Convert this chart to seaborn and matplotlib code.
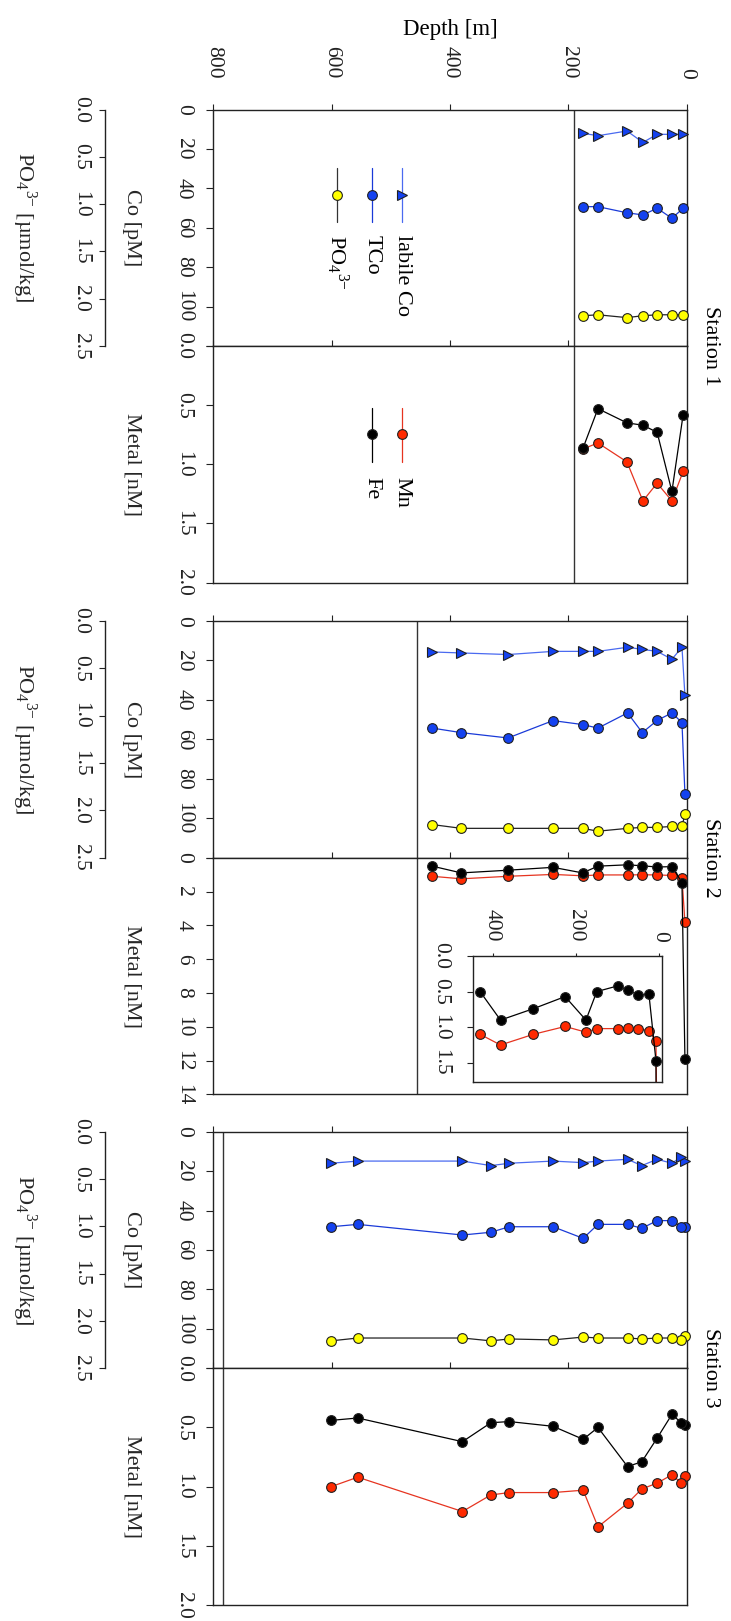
import numpy as np
import pandas as pd
import matplotlib
matplotlib.use("Agg")
import matplotlib.pyplot as plt
import seaborn as sns

sns.set_style("ticks")
plt.rcParams["font.family"] = ["Liberation Serif", "DejaVu Serif"]
plt.rcParams["mathtext.fontset"] = "custom"
plt.rcParams["mathtext.rm"] = "Liberation Serif"
plt.rcParams["mathtext.it"] = "Liberation Serif:italic"
plt.rcParams["mathtext.bf"] = "Liberation Serif:bold"
plt.rcParams["axes.edgecolor"] = "#222222"
plt.rcParams["xtick.color"] = "#222222"
plt.rcParams["ytick.color"] = "#222222"
plt.rcParams["text.color"] = "black"

# ---------------- data ----------------
stations = ["Station 1", "Station 2", "Station 3"]
depth_ticks = [0, 200, 400, 600, 800]
co_ticks = [0, 20, 40, 60, 80, 100, 120]
co_ticklabels = ["0", "20", "40", "60", "80", "100", ""]
po4_ticks = [0.0, 0.5, 1.0, 1.5, 2.0, 2.5]
metal_ticks_small = [0.0, 0.5, 1.0, 1.5, 2.0]
metal_ticks_large = [0, 2, 4, 6, 8, 10, 12, 14]
inset_depth_ticks = [0, 200, 400]
inset_metal_ticks = [0.0, 0.5, 1.0, 1.5]

# bottom depth of each station [m]
bottom_depth = [190, 456, 784]

st1_depth = [6, 25, 50, 74, 101, 150, 175]
st1_labile_co = [12.6, 12.6, 12.6, 16.7, 10.9, 13.3, 12.1]
st1_tco = [50.1, 55.2, 50.1, 53.5, 52.4, 49.3, 49.3]
st1_po4 = [2.17, 2.17, 2.17, 2.18, 2.20, 2.17, 2.18]
st1_fe = [0.58, 1.23, 0.73, 0.67, 0.65, 0.53, 0.86]
st1_mn = [1.06, 1.31, 1.16, 1.31, 0.98, 0.82, 0.87]

st2_depth = [3, 8, 25, 50, 75, 100, 150, 176, 226, 302, 381, 430]
st2_labile_co = [37.7, 13.3, 19.4, 15.4, 14.4, 13.3, 15.4, 15.4, 15.4, 17.0, 16.2, 15.7]
st2_tco = [87.5, 51.5, 46.6, 50.4, 56.6, 46.6, 54.3, 52.5, 50.5, 59.3, 56.6, 54.3]
st2_po4 = [2.04, 2.17, 2.17, 2.18, 2.18, 2.19, 2.22, 2.19, 2.19, 2.19, 2.19, 2.15]
st2_fe = [11.9, 1.47, 0.53, 0.55, 0.48, 0.42, 0.50, 0.90, 0.57, 0.74, 0.90, 0.50]
st2_mn = [3.81, 1.20, 1.05, 1.02, 1.01, 1.02, 1.02, 1.07, 0.99, 1.10, 1.25, 1.10]

st3_depth = [3, 9, 25, 50, 76, 100, 150, 175, 226, 300, 331, 379, 556, 601]
st3_labile_co = [14.9, 12.7, 16.0, 14.0, 17.2, 14.0, 14.9, 15.7, 14.9, 16.0, 17.2, 14.9, 14.9, 16.0]
st3_tco = [48.2, 48.2, 45.1, 45.1, 49.0, 47.0, 47.0, 54.1, 48.2, 48.2, 51.0, 52.4, 47.0, 48.2]
st3_po4 = [2.16, 2.20, 2.18, 2.18, 2.19, 2.18, 2.18, 2.17, 2.20, 2.19, 2.21, 2.18, 2.18, 2.21]
st3_fe = [0.48, 0.46, 0.39, 0.59, 0.79, 0.83, 0.50, 0.60, 0.49, 0.45, 0.46, 0.62, 0.42, 0.44]
st3_mn = [0.91, 0.97, 0.90, 0.97, 1.02, 1.14, 1.34, 1.03, 1.05, 1.05, 1.07, 1.21, 0.92, 1.00]

frames = [
    pd.DataFrame({"depth": st1_depth, "labile_co": st1_labile_co, "tco": st1_tco,
                  "po4": st1_po4, "fe": st1_fe, "mn": st1_mn}),
    pd.DataFrame({"depth": st2_depth, "labile_co": st2_labile_co, "tco": st2_tco,
                  "po4": st2_po4, "fe": st2_fe, "mn": st2_mn}),
    pd.DataFrame({"depth": st3_depth, "labile_co": st3_labile_co, "tco": st3_tco,
                  "po4": st3_po4, "fe": st3_fe, "mn": st3_mn}),
]
metal_max = [2.0, 14.0, 2.0]

# ---------------- styling ----------------
BLUE = "#1442f0"
LABILE_LINE = "#4a6af0"
TCO_LINE = "#1a3ad8"
YELLOW = "#ffff00"
RED = "#ff2a00"
MN_LINE = "#e63420"
BLACK = "#000000"
EDGE = "#202020"
SPINE = "#222222"
FS_TICK = 15.5
FS_LABEL = 16

W, H = 731, 1621
fig = plt.figure(figsize=(W / 100, H / 100), dpi=100)


def rect(x0, y0, x1, y1):
    return [x0 / W, 1 - y1 / H, (x1 - x0) / W, (y1 - y0) / H]


X0, X1 = 213.4, 686.7
co_rows = [(109.5, 346.0), (621.0, 857.7), (1131.7, 1368.3)]
metal_rows = [(346.0, 582.5), (857.7, 1094.3), (1368.3, 1605.0)]


def series(ax, df, col, line_color, face, marker, ms=7.0, clip=False):
    sns.lineplot(data=df, x="depth", y=col, ax=ax, estimator=None, sort=True,
                 color=line_color, linewidth=0.9, marker=marker, markersize=ms,
                 markerfacecolor=face, markeredgecolor=EDGE, markeredgewidth=0.8,
                 legend=False, clip_on=clip, zorder=3)


def style_axes(ax, ymax, yticks, ylabels, depth_labels):
    ax.set_xlim(800, 0)
    ax.set_ylim(ymax, 0)
    ax.set_xlabel("")
    ax.set_ylabel("")
    for s in ax.spines.values():
        s.set_color(SPINE)
        s.set_linewidth(1.0)
    ax.xaxis.set_ticks_position("top")
    ax.set_xticks(depth_ticks)
    ax.tick_params(axis="x", direction="out", length=4.3, width=0.8,
                   labeltop=depth_labels, labelbottom=False,
                   labelrotation=-90, pad=18, labelsize=FS_TICK)
    ax.set_yticks(yticks)
    ax.set_yticklabels(ylabels)
    ax.tick_params(axis="y", direction="out", length=4.8, width=0.8,
                   labelrotation=-90, pad=10, labelsize=FS_TICK)
    plt.setp(ax.get_yticklabels(), va="center")


def frac_x(px):
    return (px - X0) / (X1 - X0)


for i, df in enumerate(frames):
    # cobalt / phosphate panel
    ax = fig.add_axes(rect(X0, co_rows[i][0], X1, co_rows[i][1]))
    ax.axvline(bottom_depth[i], color="#333333", lw=1.0, zorder=1)
    series(ax, df, "labile_co", LABILE_LINE, BLUE, ">", ms=7.5)
    series(ax, df, "tco", TCO_LINE, BLUE, "o")
    style_axes(ax, 120, co_ticks, co_ticklabels, depth_labels=(i == 0))
    ax.set_ylabel("Co [pM]", rotation=-90, fontsize=FS_LABEL)
    ax.yaxis.set_label_coords(frac_x(132), 0.5)
    ax.yaxis.label.set_va("center")
    ax.yaxis.label.set_ha("center")

    ax2 = ax.twinx()
    series(ax2, df, "po4", "#222222", YELLOW, "o")
    ax2.set_ylim(2.5, 0)
    ax2.set_xlim(800, 0)
    ax2.set_xlabel("")
    ax2.yaxis.tick_left()
    ax2.yaxis.set_label_position("left")
    for name in ["right", "top", "bottom"]:
        ax2.spines[name].set_visible(False)
    ax2.spines["left"].set_position(("outward", (X0 - 105) * 0.72))
    ax2.spines["left"].set_color(SPINE)
    ax2.spines["left"].set_linewidth(1.0)
    ax2.set_yticks(po4_ticks)
    ax2.set_yticklabels([f"{v:.1f}" for v in po4_ticks])
    ax2.tick_params(axis="y", direction="out", length=4.0, width=0.8,
                    labelrotation=-90, pad=7, labelsize=FS_TICK)
    plt.setp(ax2.get_yticklabels(), va="center")
    ax2.set_ylabel(r"PO$_4$$^{3\mathrm{-}}$ [µmol/kg]", rotation=-90, fontsize=FS_LABEL)
    ax2.yaxis.set_label_coords(frac_x(24), 0.5)
    ax2.yaxis.label.set_va("center")
    ax2.yaxis.label.set_ha("center")

    if i == 0:
        keys = [("labile Co", LABILE_LINE, BLUE, ">", 402),
                ("TCo", TCO_LINE, BLUE, "o", 372),
                (r"PO$_4$$^{3\mathrm{-}}$", "#333333", YELLOW, "o", 337)]
        for text, lc, fc, mk, px in keys:
            fx = frac_x(px)
            ax2.plot([fx, fx], [0.751, 0.526], transform=ax2.transAxes,
                     color=lc, lw=0.9, clip_on=False, zorder=4)
            ax2.plot([fx], [0.638], transform=ax2.transAxes, marker=mk,
                     ms=7.0, mfc=fc, mec=EDGE, mew=0.8, clip_on=False, zorder=5)
            ax2.text(fx, 0.469, text, transform=ax2.transAxes, rotation=-90,
                     ha="center", va="top", fontsize=FS_LABEL)

    # metal panel
    axm = fig.add_axes(rect(X0, metal_rows[i][0], X1, metal_rows[i][1]))
    axm.axvline(bottom_depth[i], color="#333333", lw=1.0, zorder=1)
    series(axm, df, "mn", MN_LINE, RED, "o")
    series(axm, df, "fe", BLACK, BLACK, "o")
    if metal_max[i] > 2:
        mt = metal_ticks_large
        ml = [str(v) for v in mt]
    else:
        mt = metal_ticks_small
        ml = [f"{v:.1f}" for v in mt]
    style_axes(axm, metal_max[i], mt, ml, depth_labels=False)
    axm.set_ylabel("Metal [nM]", rotation=-90, fontsize=FS_LABEL)
    axm.yaxis.set_label_coords(frac_x(132), 0.5)
    axm.yaxis.label.set_va("center")
    axm.yaxis.label.set_ha("center")

    if i == 0:
        keys = [("Mn", MN_LINE, RED, 402), ("Fe", BLACK, BLACK, 372)]
        for text, lc, fc, px in keys:
            fx = frac_x(px)
            axm.plot([fx, fx], [0.737, 0.511], transform=axm.transAxes,
                     color=lc, lw=0.9, clip_on=False, zorder=4)
            axm.plot([fx], [0.627], transform=axm.transAxes, marker="o",
                     ms=7.0, mfc=fc, mec=EDGE, mew=0.8, clip_on=False, zorder=5)
            axm.text(fx, 0.446, text, transform=axm.transAxes, rotation=-90,
                     ha="center", va="top", fontsize=FS_LABEL)

    if i == 1:
        # enlarged view of the low-concentration metal profile
        axi = fig.add_axes(rect(473, 956, 662, 1082))
        series(axi, df, "mn", MN_LINE, RED, "o", clip=True)
        series(axi, df, "fe", BLACK, BLACK, "o", clip=True)
        axi.set_xlim(447, -6.5)
        axi.set_ylim(1.77, 0)
        axi.set_xlabel("")
        axi.set_ylabel("")
        for s in axi.spines.values():
            s.set_color(SPINE)
            s.set_linewidth(1.0)
        axi.xaxis.set_ticks_position("top")
        axi.set_xticks(inset_depth_ticks)
        axi.tick_params(axis="x", direction="out", length=2.5, width=0.8,
                        labeltop=True, labelbottom=False, labelrotation=-90,
                        pad=8, labelsize=FS_TICK)
        axi.set_yticks(inset_metal_ticks)
        axi.set_yticklabels([f"{v:.1f}" for v in inset_metal_ticks])
        axi.tick_params(axis="y", direction="out", length=4.3, width=0.8,
                        labelrotation=-90, pad=12, labelsize=FS_TICK)
        plt.setp(axi.get_yticklabels(), va="center")

    fig.text(710 / W, 1 - co_rows[i][1] / H, stations[i], rotation=-90,
             ha="center", va="center", fontsize=FS_LABEL)

fig.text(450 / W, 1 - 30 / H, "Depth [m]", ha="center", va="center", fontsize=16.5)

fig.savefig("out.png", dpi=100)
